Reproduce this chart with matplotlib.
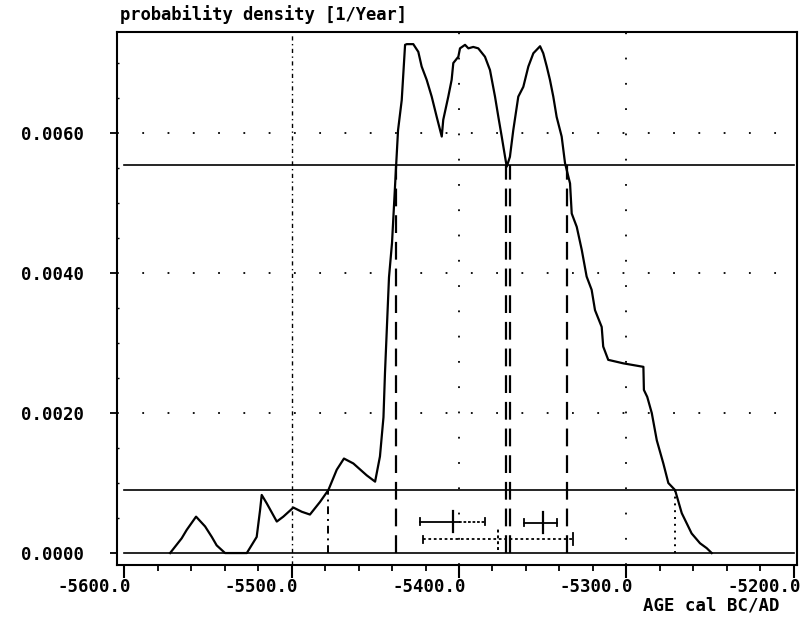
import numpy as np
import matplotlib
matplotlib.use("Agg")
from matplotlib import pyplot as plt
from matplotlib import transforms
from matplotlib.ticker import MultipleLocator, FormatStrFormatter

# calibrated age distribution
years = [-5572.5, -5565.6, -5562.6, -5557.0, -5551.6, -5547.6, -5544.7, -5539.7,
         -5526.7, -5520.8, -5518.8, -5517.8, -5514.8, -5508.8, -5504.9, -5498.9,
         -5493.9, -5489.0, -5483.0, -5478.0, -5473.0, -5468.7, -5463.1, -5455.1,
         -5450.1, -5447.2, -5445.1, -5444.2, -5441.8, -5440.0, -5437.6, -5436.4,
         -5434.2, -5432.2, -5431.2, -5427.3, -5424.3, -5422.3, -5419.3, -5416.3,
         -5413.3, -5410.3, -5409.4, -5406.4, -5404.4, -5403.4, -5400.4, -5399.4,
         -5396.4, -5394.4, -5391.5, -5388.5, -5384.5, -5381.5, -5378.5, -5376.5,
         -5374.5, -5372.5, -5371.5, -5369.6, -5367.6, -5364.6, -5361.6, -5358.6,
         -5355.6, -5351.6, -5349.7, -5347.6, -5345.7, -5343.7, -5341.7, -5338.7,
         -5336.7, -5333.7, -5332.7, -5329.7, -5326.7, -5323.8, -5320.8, -5318.8,
         -5314.8, -5313.9, -5310.9, -5301.9, -5289.9, -5289.6, -5287.6, -5284.9,
         -5281.9, -5278.0, -5275.0, -5271.0, -5267.0, -5261.1, -5256.1, -5252.1,
         -5249.1]
density = [0.0, 0.00021, 0.00033, 0.00052, 0.00038, 0.00023, 0.00011, 0.0,
           0.0, 0.00023, 0.00061, 0.00083, 0.00071, 0.00045, 0.00052, 0.00065,
           0.00059, 0.00055, 0.00073, 0.00090, 0.00119, 0.00135, 0.00128, 0.00111,
           0.00102, 0.00138, 0.00194, 0.00257, 0.00394, 0.00443, 0.00551, 0.00604,
           0.00647, 0.00726, 0.00727, 0.00727, 0.00716, 0.00695, 0.00676, 0.00652,
           0.00623, 0.00595, 0.00619, 0.00652, 0.00676, 0.00700, 0.00709, 0.00721,
           0.00726, 0.00721, 0.00723, 0.00721, 0.00709, 0.00690, 0.00652, 0.00623,
           0.00595, 0.00566, 0.00552, 0.00566, 0.00604, 0.00652, 0.00666, 0.00695,
           0.00714, 0.00724, 0.00714, 0.00695, 0.00676, 0.00652, 0.00623, 0.00595,
           0.00557, 0.00528, 0.00485, 0.00466, 0.00433, 0.00395, 0.00376, 0.00347,
           0.00323, 0.00295, 0.00276, 0.00271, 0.00266, 0.00233, 0.00223, 0.00200,
           0.00161, 0.00128, 0.00100, 0.00090, 0.00057, 0.00028, 0.00014, 0.00007,
           0.0]

# probability levels (68.2% and 95.4%)
level_1s = 0.00555
level_2s = 0.00090
bounds_1s = [-5437.5, -5372.0, -5369.6, -5335.8]
bound_2s_lo = -5478.5
bound_2s_hi = -5271.0

# range bars at the bottom
bar1 = [-5423.3, -5403.8, -5384.5]   # lo, mid, hi
bar2 = [-5361.2, -5349.7, -5341.7]
bar3 = [-5421.7, -5376.9, -5331.9]
bar_y = [0.00045, 0.00043, 0.00020]

xticks = [-5600, -5500, -5400, -5300, -5200]
yticks = [0.0, 0.002, 0.004, 0.006]

plt.rcParams['font.family'] = ['DejaVu Sans Mono']
fig = plt.figure(figsize=(8.12, 6.33), dpi=100)
ax = fig.add_axes([0.1441, 0.1074, 0.8374, 0.8420])

# grid
for x in xticks[1:-1]:
    if x == -5500:
        ax.axvline(x, color='k', lw=1.0, linestyle=(0, (3, 2.5, 1, 2.5)))
    else:
        ax.axvline(x, color='k', lw=1.3, linestyle=(0, (1, 13)))
for y in yticks[1:]:
    ax.axhline(y, color='k', lw=1.3, linestyle=(0, (1, 13)))

# level lines
ax.plot([-5600, -5200], [level_1s, level_1s], color='k', lw=1.2)
ax.plot([-5600, -5200], [level_2s, level_2s], color='k', lw=1.2)
ax.plot([-5600, -5200], [0, 0], color='k', lw=1.2)

# density curve
ax.plot(years, density, color='k', lw=1.6)

# range limits
for b in bounds_1s:
    ax.plot([b, b], [0, level_1s], color='k', lw=1.6, linestyle=(0, (8, 4)))
ax.plot([bound_2s_lo, bound_2s_lo], [0, level_2s], color='k', lw=1.4,
        linestyle=(0, (4, 2.5, 1, 2.5)))
ax.plot([bound_2s_hi, bound_2s_hi], [0, level_2s], color='k', lw=1.4,
        linestyle=(0, (1, 2.5)))

# bars
ax.plot([bar1[0], bar1[1] + 4], [bar_y[0], bar_y[0]], color='k', lw=1.3)
ax.plot([bar1[1] + 4, bar1[2]], [bar_y[0], bar_y[0]], color='k', lw=1.3,
        linestyle=(0, (1.5, 1)))
ax.plot([bar2[0], bar2[2]], [bar_y[1], bar_y[1]], color='k', lw=1.3)
ax.plot([bar3[0], bar3[2]], [bar_y[2], bar_y[2]], color='k', lw=1.3,
        linestyle=(0, (1.5, 1.5)))
for b, y in zip([bar1, bar2], bar_y[:2]):
    ax.plot([b[0], b[0]], [y - 0.00005, y + 0.00005], color='k', lw=1.3)
    ax.plot([b[2], b[2]], [y - 0.00005, y + 0.00005], color='k', lw=1.3)
    ax.plot([b[1], b[1]], [y - 0.00015, y + 0.00015], color='k', lw=1.6)
ax.plot([bar3[0], bar3[0]], [bar_y[2] - 0.00005, bar_y[2] + 0.00005], color='k', lw=1.3)
ax.plot([bar3[2], bar3[2]], [bar_y[2] - 0.00008, bar_y[2] + 0.00008], color='k', lw=1.3)
ax.plot([bar3[1], bar3[1]], [bar_y[2] - 0.00015, bar_y[2] + 0.00015], color='k', lw=1.4,
        linestyle=(0, (1.5, 1.5)))

ax.set_xlim(-5604.2, -5198.2)
ax.set_ylim(-0.000171, 0.007443)

ax.set_xticks(xticks)
ax.xaxis.set_minor_locator(MultipleLocator(20))
ax.xaxis.set_major_formatter(FormatStrFormatter('%.1f'))
ax.set_yticks(yticks)
ax.yaxis.set_minor_locator(MultipleLocator(0.0005))
ax.yaxis.set_major_formatter(FormatStrFormatter('%.4f'))

ax.tick_params(axis='x', which='major', direction='out', length=9, width=1.5,
               pad=0.5, labelsize=12.5)
ax.tick_params(axis='x', which='minor', direction='out', length=4.5, width=1.3)
ax.tick_params(axis='y', which='major', direction='out', length=5, width=1.3,
               pad=19, labelsize=12.5)
ax.tick_params(axis='y', which='minor', direction='in', length=1.5, width=1.0)
shift = transforms.ScaledTranslation(-0.30, 0, fig.dpi_scale_trans)
for lab in ax.get_xticklabels():
    lab.set_fontweight('bold')
    lab.set_transform(lab.get_transform() + shift)
for lab in ax.get_yticklabels():
    lab.set_fontweight('bold')

for s in ax.spines.values():
    s.set_linewidth(1.5)

fig.text(120 / 812, 1 - 15 / 633, "probability density [1/Year]", fontsize=12.3,
         ha='left', va='center', fontweight='bold')
fig.text(780 / 812, 1 - 605 / 633, "AGE cal BC/AD", fontsize=12.5,
         ha='right', va='center', fontweight='bold')

fig.savefig("out.png", dpi=100)
